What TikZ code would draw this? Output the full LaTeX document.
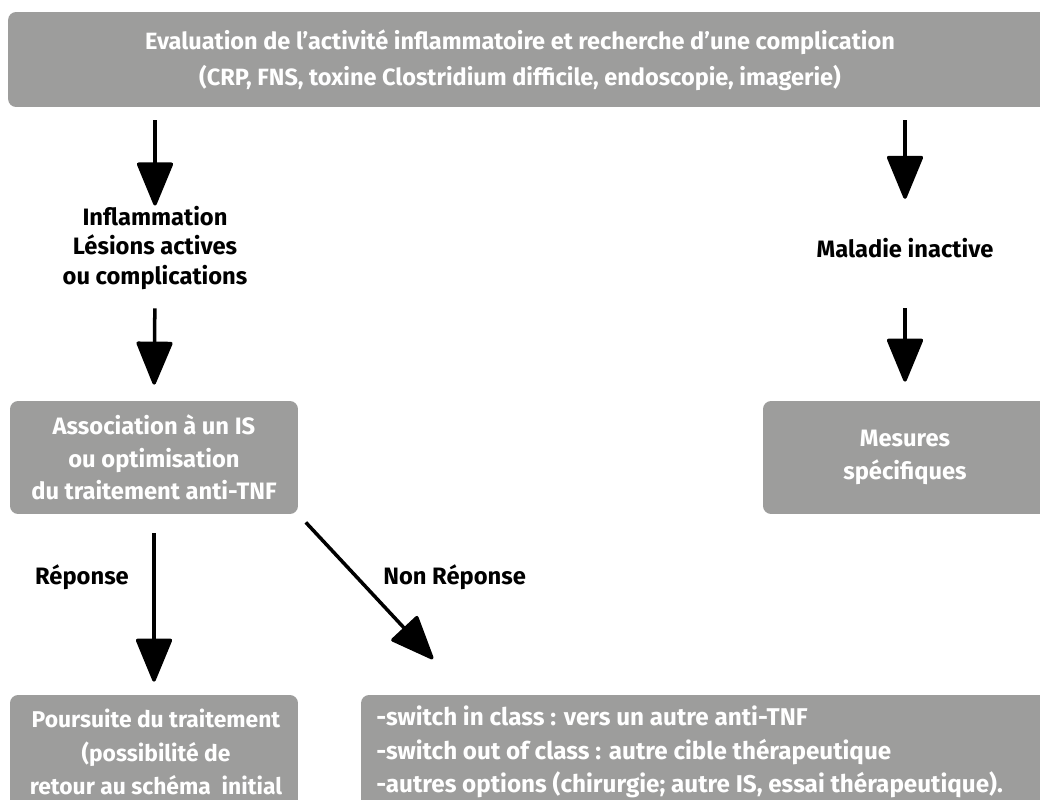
\documentclass[tikz,border=0pt]{standalone}
\usepackage{fontspec}
\setmainfont{Fira Sans}
\usepackage{xcolor}
\usepackage{tikz}
\usetikzlibrary{positioning,arrows.meta}
\definecolor{boxgrey}{RGB}{157,157,156}

\begin{document}
\begin{tikzpicture}[x=0.02cm, y=-0.02cm,
				greybox/.style={draw=none, fill=boxgrey, rectangle, rounded corners=0.16cm, inner sep=0pt},
				boxtext/.style={text=white, inner sep=0pt, align=center, font=\fontsize{13.5}{18.5}\selectfont\bfseries},
				lowtext/.style={text=white, inner sep=0pt, font=\fontsize{13.8}{19}\selectfont\bfseries},
				lbl/.style={text=black, inner sep=0pt, align=center, font=\fontsize{13.5}{17}\selectfont\bfseries},
				arr/.style={line width=2pt, -{Triangle[width=0.74cm, length=0.92cm, round]}},
			]
			\useasboundingbox (0,0) rectangle (1040,800);
			% top box
			\node[greybox, minimum width=1.2cm*17.4, minimum height=1.9cm] (evalbox) at (530,59.5) {};
			\node[boxtext, font=\fontsize{13.4}{20.5}\selectfont\bfseries] (evaltxt) at (520,60)
			{Evaluation de l’activité inflammatoire et recherche d’une complication\\(CRP, FNS, toxine Clostridium difficile, endoscopie, imagerie)};
			% labels
			\node[lbl] (actlbl) at (155,248) {Inflammation\\Lésions actives\\ou complications};
			\node[lbl] (inactlbl) at (905,248) {Maladie inactive};
			\draw[arr, shorten <=0.26cm] (evalbox.south -| actlbl.north) -- (actlbl.north);
			\draw[arr, shorten <=0.26cm, shorten >=0.78cm] (evalbox.south -| inactlbl.north) -- (inactlbl.north);
			% middle boxes
			\node[greybox, minimum width=5.76cm, minimum height=2.26cm] (assocbox) at (154,457.5) {};
			\node[boxtext] (assoctxt) at (assocbox) {Association à un IS\\ou optimisation\\du traitement anti-TNF};
			\node[greybox, minimum width=5.68cm, minimum height=2.26cm] (mesbox) at (905,457.5) {};
			\node[boxtext] (mestxt) at (mesbox) {Mesures\\spécifiques};
			\draw[arr, shorten <=0.36cm, shorten >=0.32cm] (actlbl.south) -- (assocbox.north);
			\draw[arr, shorten <=1.0cm, shorten >=0.38cm] (inactlbl.south) -- (mesbox.north);
			% bottom boxes
			\node[greybox, minimum width=5.76cm, minimum height=2.4cm] (poursbox) at (154,755) {};
			\node[boxtext, font=\fontsize{13}{19}\selectfont\bfseries] (pourstxt) at (156,752)
			{Poursuite du traitement\\(possibilité de\\retour au schéma\ \ initial};
			\node[greybox, minimum width=13.98cm, minimum height=2.4cm] (switchbox) at (710.5,755) {};
			\node[lowtext, align=left, anchor=west] (switchtxt) at (376,752)
			{-switch in class : vers un autre anti-TNF\\-switch out of class : autre cible thérapeutique\\-autres options (chirurgie; autre IS, essai thérapeutique).};
			\node[lbl, anchor=west] (nonrep) at (383,577) {Non Réponse};
			\node[lbl] (rep) at (82,577) {Réponse};
			\coordinate (nrtip) at (433,659);
			\draw[arr, shorten <=0.38cm, shorten >=0.26cm] (assocbox.south) -- (poursbox.north);
			\draw[arr, shorten <=0.22cm] (assocbox.south east) -- (nrtip);
		\end{tikzpicture}
\end{document}
